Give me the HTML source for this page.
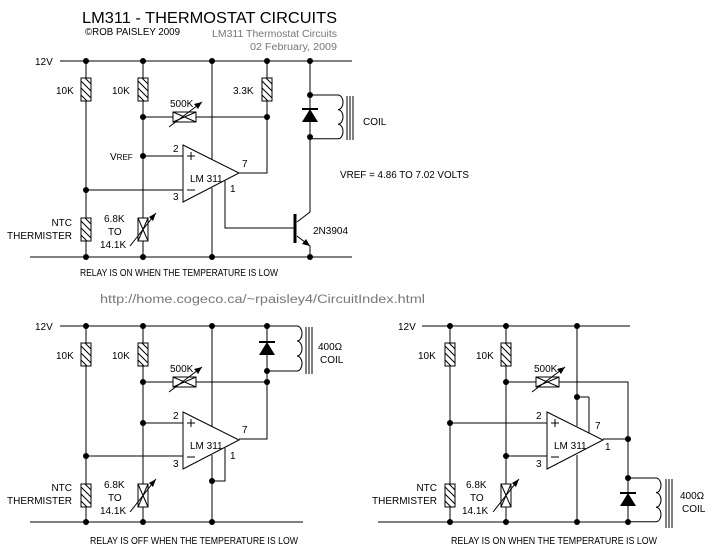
<!DOCTYPE html>
<html><head><meta charset="utf-8"><style>
html,body{margin:0;padding:0;background:#fff}
svg{display:block}
text{font-family:"Liberation Sans",sans-serif;font-size:10px;fill:#000}
</style></head><body>
<svg width="720" height="554" viewBox="0 0 720 554" xmlns="http://www.w3.org/2000/svg">
<defs>
<g id="rv"><rect x="0" y="0" width="10" height="23" fill="#fff" stroke="#000"/><path d="M0,3 L10,13 M0,10 L10,20 M0,17 L6,23 M4,0 L10,6" stroke="#000" fill="none"/></g>
<g id="vrv"><rect x="0" y="0" width="10" height="23" fill="#fff" stroke="#000"/><path d="M0,0 L10,23 M10,0 L0,23" stroke="#000"/><path d="M-8,28 L18,-5" stroke="#000"/><path d="M18,-5 L11,-1 L15,3 Z" fill="#000"/></g>
<g id="hrv"><rect x="0" y="0" width="23" height="10" fill="#fff" stroke="#000"/><path d="M0,10 L23,0 M0,0 L23,10" stroke="#000"/><path d="M-4,15 L29,-10" stroke="#000"/><path d="M29,-10 L21,-8 L25,-3 Z" fill="#000"/></g>
<g id="diode"><path d="M-8,13 L8,13 L0,0 Z" fill="#000"/><path d="M-8,0 H8" stroke="#000" stroke-width="2"/></g>
<g id="opamp"><path d="M0,0 L56,28 L0,57 Z" fill="#fff" stroke="#000"/><text x="7" y="37">LM 311</text><path d="M4,11 H12 M8,7 V15 M4,45 H12" stroke="#000"/></g>
</defs>
<g stroke="#000" fill="none">
<path d="M60,61 H352 M30,257 H352"/>
<path d="M86,61 V257 M143,61 V257 M267,61 V173 H239 M143,117 H267 M143,156 H183 M86,190 H183"/>
<path d="M212,61 V159 M212,188 V257"/>
<path d="M225,181 V228 H295"/>
<path d="M310,61 V212 L297,222 M297,236 L310,246 V257"/>
<path d="M310,95 H338 a5,7.3 0 0 1 0,14.6 a5,7.3 0 0 1 0,14.6 a5,7.3 0 0 1 0,14.6 H310"/>
<path d="M347,96 V140 M350,96 V140 M353,96 V140"/>
<path d="M295,214 V243" stroke-width="3"/>
<path d="M60,326 H298 M30,522 H303"/>
<path d="M86,326 V522 M143,326 V522 M267,326 V439 H239 M143,382 H267 M143,423 H183 M86,456 H183"/>
<path d="M212,326 V426 M212,455 V522 M225,448 V481 H212"/>
<path d="M267,326 H297 a5,7.5 0 0 1 0,15 a5,7.5 0 0 1 0,15 a5,7.5 0 0 1 0,15 H267"/>
<path d="M306,327 V374 M309,327 V374 M312,327 V374"/>
<path d="M422,326 H630 M378,522 H630"/>
<path d="M450,326 V522 M506,326 V522 M506,382 H628 V522 M450,423 H547 M506,456 H547 M603,439 H628"/>
<path d="M628,478 H656 a5,7.3 0 0 1 0,14.6 a5,7.3 0 0 1 0,14.6 a5,7.3 0 0 1 0,14.6 H628"/>
<path d="M666,479 V528 M669,479 V528 M672,479 V528"/>
</g>
<use href="#rv" x="81" y="78"/><use href="#rv" x="138" y="78"/><use href="#rv" x="262" y="78"/>
<use href="#hrv" x="173" y="112"/>
<use href="#opamp" x="183" y="145"/>
<use href="#rv" x="81" y="218"/><use href="#vrv" x="138" y="218"/>
<use href="#diode" x="310" y="109"/>
<path d="M310,246 L302,244 L306,239 Z" fill="#000"/>
<use href="#rv" x="81" y="343"/><use href="#rv" x="138" y="343"/>
<use href="#hrv" x="173" y="377"/>
<use href="#opamp" x="183" y="412"/>
<use href="#rv" x="81" y="484"/><use href="#vrv" x="138" y="484"/>
<use href="#diode" x="267" y="342"/>
<use href="#rv" x="445" y="343"/><use href="#rv" x="501" y="343"/>
<use href="#hrv" x="536" y="377"/>
<g transform="translate(547,412)"><path d="M0,0 L56,28 L0,57 Z" fill="#fff" stroke="#000"/><text x="7" y="37">LM 311</text><path d="M4,11 H12 M8,7 V15 M4,45 H12" stroke="#000"/></g>
<path d="M577,326 V426 M577,455 V522 M589,397 V433 M577,397 H589" stroke="#000"/>
<use href="#rv" x="445" y="484"/><use href="#vrv" x="501" y="484"/>
<use href="#diode" x="628" y="493"/>
<g fill="#000">
<circle cx="86" cy="61" r="3"/><circle cx="143" cy="61" r="3"/><circle cx="212" cy="61" r="3"/><circle cx="267" cy="61" r="3"/><circle cx="310" cy="61" r="3"/>
<circle cx="143" cy="117" r="3"/><circle cx="267" cy="117" r="3"/><circle cx="143" cy="156" r="3"/><circle cx="86" cy="190" r="3"/>
<circle cx="310" cy="95" r="3"/><circle cx="310" cy="137" r="3"/>
<circle cx="86" cy="257" r="3"/><circle cx="143" cy="257" r="3"/><circle cx="212" cy="257" r="3"/><circle cx="310" cy="257" r="3"/>
<circle cx="86" cy="326" r="3"/><circle cx="143" cy="326" r="3"/><circle cx="212" cy="326" r="3"/><circle cx="267" cy="326" r="3"/>
<circle cx="267" cy="371" r="3"/><circle cx="143" cy="382" r="3"/><circle cx="267" cy="382" r="3"/><circle cx="143" cy="423" r="3"/><circle cx="86" cy="456" r="3"/><circle cx="212" cy="481" r="3"/>
<circle cx="86" cy="522" r="3"/><circle cx="143" cy="522" r="3"/><circle cx="212" cy="522" r="3"/>
<circle cx="450" cy="326" r="3"/><circle cx="506" cy="326" r="3"/><circle cx="577" cy="326" r="3"/>
<circle cx="506" cy="382" r="3"/><circle cx="577" cy="397" r="3"/><circle cx="450" cy="423" r="3"/><circle cx="506" cy="456" r="3"/>
<circle cx="628" cy="439" r="3"/><circle cx="628" cy="478" r="3"/>
<circle cx="450" cy="522" r="3"/><circle cx="506" cy="522" r="3"/><circle cx="577" cy="522" r="3"/><circle cx="628" cy="522" r="3"/>
</g>
<text x="82" y="23" style="font-size:16px" textLength="255" lengthAdjust="spacingAndGlyphs">LM311 - THERMOSTAT CIRCUITS</text>
<text x="85" y="35" textLength="95" lengthAdjust="spacingAndGlyphs">©ROB PAISLEY 2009</text>
<text x="212" y="37" style="fill:#777" textLength="125" lengthAdjust="spacingAndGlyphs">LM311 Thermostat Circuits</text>
<text x="250" y="50" style="fill:#777" textLength="87" lengthAdjust="spacingAndGlyphs">02 February, 2009</text>
<text x="35" y="65">12V</text>
<text x="56" y="94">10K</text><text x="112" y="94">10K</text><text x="233" y="94">3.3K</text>
<text x="170" y="107">500K</text>
<text x="110" y="160">V<tspan style="font-size:8px">REF</tspan></text>
<text x="173" y="152">2</text><text x="173" y="200">3</text><text x="242" y="167">7</text><text x="230" y="192">1</text>
<text x="340" y="178" textLength="129" lengthAdjust="spacingAndGlyphs">VREF = 4.86 TO 7.02 VOLTS</text>
<text x="363" y="125">COIL</text>
<text x="313" y="234">2N3904</text>
<text x="72" y="226" text-anchor="end">NTC</text><text x="72" y="239" text-anchor="end">THERMISTER</text>
<text x="104" y="222">6.8K</text><text x="108" y="235">TO</text><text x="100" y="248">14.1K</text>
<text x="80" y="276" textLength="198" lengthAdjust="spacingAndGlyphs">RELAY IS ON WHEN THE TEMPERATURE IS LOW</text>
<text x="100" y="303" style="fill:#777;font-size:11.5px" textLength="325" lengthAdjust="spacingAndGlyphs">http://home.cogeco.ca/~rpaisley4/CircuitIndex.html</text>
<text x="35" y="330">12V</text>
<text x="56" y="359">10K</text><text x="112" y="359">10K</text>
<text x="170" y="372">500K</text>
<text x="173" y="419">2</text><text x="173" y="467">3</text><text x="242" y="433">7</text><text x="230" y="459">1</text>
<text x="318" y="350">400Ω</text><text x="320" y="363">COIL</text>
<text x="72" y="491" text-anchor="end">NTC</text><text x="72" y="504" text-anchor="end">THERMISTER</text>
<text x="104" y="488">6.8K</text><text x="108" y="501">TO</text><text x="100" y="514">14.1K</text>
<text x="90" y="544" textLength="208" lengthAdjust="spacingAndGlyphs">RELAY IS OFF WHEN THE TEMPERATURE IS LOW</text>
<text x="398" y="330">12V</text>
<text x="418" y="359">10K</text><text x="476" y="359">10K</text>
<text x="534" y="372">500K</text>
<text x="536" y="419">2</text><text x="536" y="467">3</text><text x="595" y="429">7</text><text x="605" y="450">1</text>
<text x="680" y="499">400Ω</text><text x="682" y="512">COIL</text>
<text x="437" y="491" text-anchor="end">NTC</text><text x="437" y="504" text-anchor="end">THERMISTER</text>
<text x="466" y="488">6.8K</text><text x="470" y="501">TO</text><text x="462" y="514">14.1K</text>
<text x="451" y="544" textLength="206" lengthAdjust="spacingAndGlyphs">RELAY IS ON WHEN THE TEMPERATURE IS LOW</text>
</svg>
</body></html>
